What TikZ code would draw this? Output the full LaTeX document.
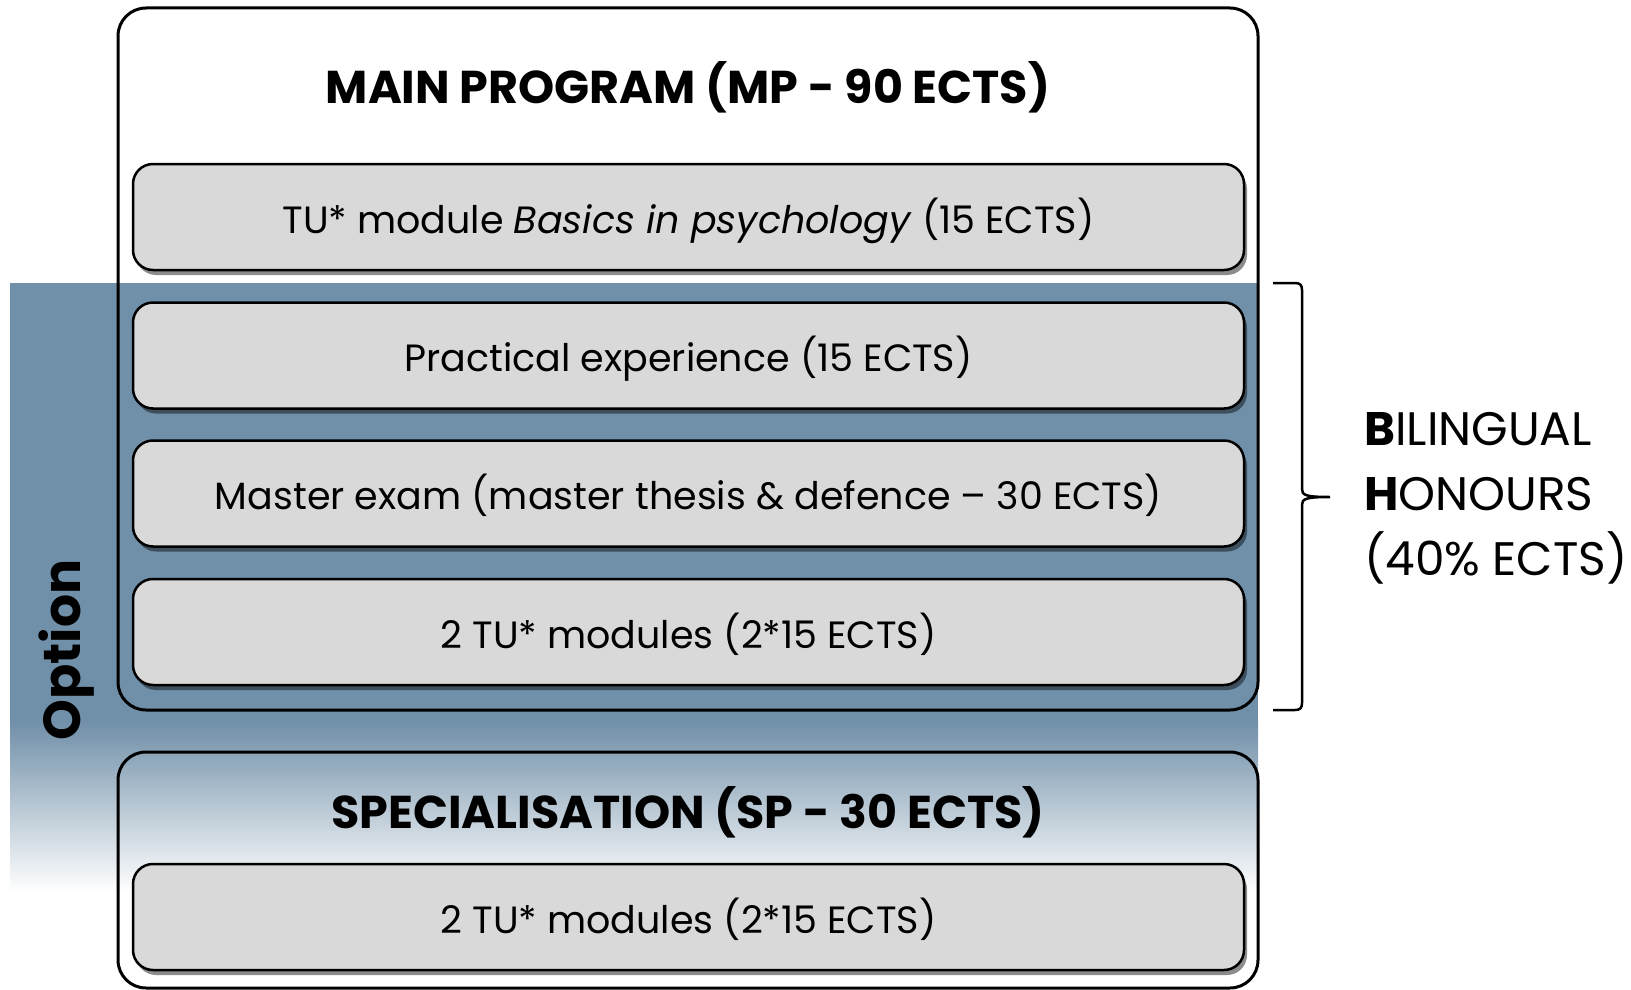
\documentclass[tikz,border=0pt]{standalone}
\usepackage{fontspec}
\setmainfont{Poppins}
\usetikzlibrary{shadows}
\definecolor{bandblue}{RGB}{112,143,168}
\definecolor{boxgray}{RGB}{217,217,217}
\tikzset{
  outerbox/.style={draw=black,line width=3pt,rounded corners=28pt},
  modbox/.style={draw=black,line width=2.5pt,rounded corners=20pt,fill=boxgray,
    minimum width=1111pt,minimum height=106pt,inner sep=0pt,
    text height=40pt,text depth=8pt,
    font=\fontsize{38}{42}\selectfont,
    drop shadow={shadow xshift=3pt,shadow yshift=-5pt,opacity=0.45,fill=black}},
  titletext/.style={font=\fontsize{46}{50}\selectfont\bfseries},
  sidetext/.style={font=\fontsize{47}{52}\selectfont,anchor=base west,inner sep=0pt}
}
\begin{document}
\begin{tikzpicture}[x=1pt,y=-1pt]
\useasboundingbox (0,0) rectangle (1631,990);
% blue band
\fill[bandblue] (10,283) rectangle (1258,722);
\shade[top color=bandblue,bottom color=white] (10,721) rectangle (1258,892);
% outer boxes
\draw[outerbox] (118,8) rectangle (1258,710);
\draw[outerbox] (118,752) rectangle (1258,988);
% titles
\node[titletext] (title) at (688,87) {MAIN PROGRAM (MP - 90 ECTS)};
\node[titletext] (sptitle) at (688,812) {SPECIALISATION (SP - 30 ECTS)};
% module boxes
\node[modbox] (b1) at (688.5,217) {TU* module \textit{Basics in psychology} (15 ECTS)};
\node[modbox] (b2) at (688.5,355.5) {Practical experience (15 ECTS)};
\node[modbox] (b3) at (688.5,493.5) {Master exam (master thesis \& defence -- 30 ECTS)};
\node[modbox] (b4) at (688.5,632) {2 TU* modules (2*15 ECTS)};
\node[modbox] (b5) at (688.5,917) {2 TU* modules (2*15 ECTS)};
% option label
\node[rotate=90,font=\fontsize{52}{56}\selectfont\bfseries] (opt) at (67,650) {Option};
% brace
\draw[line width=2.5pt] (1273,283) -- (1295,283) .. controls (1300,283) and (1302,285) .. (1302,290)
  -- (1302,489) .. controls (1302,495) and (1305,497) .. (1330,497)
  .. controls (1305,497) and (1302,499) .. (1302,505)
  -- (1302,703) .. controls (1302,708) and (1300,710) .. (1295,710) -- (1273,710);
% side text
\node[sidetext] (bl1) at (1364,445) {\textbf{B}ILINGUAL};
\node[sidetext] (bl2) at (1364,510) {\textbf{H}ONOURS};
\node[sidetext] (bl3) at (1364,575) {(40\% ECTS)};
\end{tikzpicture}
\end{document}
